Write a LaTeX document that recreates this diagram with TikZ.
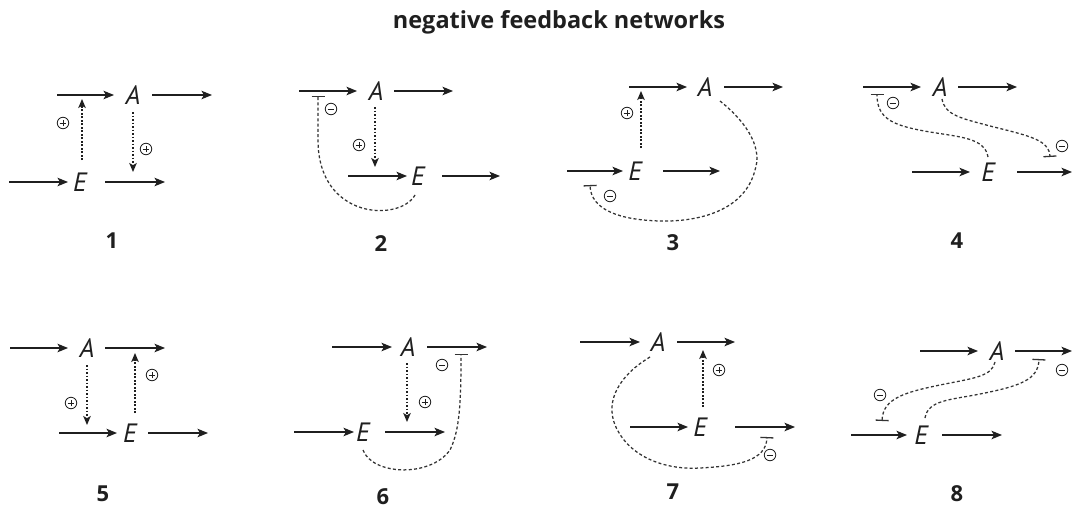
\documentclass[tikz,border=0pt]{standalone}
\usepackage{fontspec}
\setmainfont{Open Sans}
\newfontfamily\speciesfont{PT Sans}
\usetikzlibrary{arrows.meta,calc}
\definecolor{ink}{gray}{0.12}
\definecolor{dashink}{gray}{0.2}
\tikzset{
  flux/.style={draw=ink, line width=1.4pt, -{Stealth[length=10.5pt,width=8.5pt,inset=2.5pt]}},
  act/.style={draw=ink, line width=1.3pt, dash pattern=on 1.8pt off 1.7pt, -{Stealth[length=9pt,width=7.5pt,inset=2.2pt]}},
  inh/.style={draw=dashink, line width=1.25pt, dash pattern=on 3pt off 2.3pt, -{Bar[width=13pt,line width=1.3pt]}},
  species/.style={font=\speciesfont\fontsize{26.5}{26.5}\selectfont\itshape, text=ink, inner sep=0pt},
  tag/.style={font=\fontsize{22}{22}\selectfont\bfseries, text=ink},
  sign/.style={circle, draw=ink, line width=0.8pt, minimum size=11.5pt, inner sep=0pt},
  signplus/.style={sign, path picture={
      \draw[ink, line width=0.75pt]
        ([xshift=-3.3pt]path picture bounding box.center) -- ([xshift=3.3pt]path picture bounding box.center)
        ([yshift=-3.3pt]path picture bounding box.center) -- ([yshift=3.3pt]path picture bounding box.center);}},
  signminus/.style={sign, path picture={
      \draw[ink, line width=0.75pt]
        ([xshift=-3.3pt]path picture bounding box.center) -- ([xshift=3.3pt]path picture bounding box.center);}},
}
\begin{document}
\begin{tikzpicture}[x=1pt,y=-1pt]
\useasboundingbox (0,0) rectangle (1073,511);
\fill[white] (0,0) rectangle (1073,511);

\node[font=\fontsize{23.5}{23.5}\selectfont\bfseries, text=ink] (title) at (559,22) {negative feedback networks};

% ---------- 1 ----------
\node[species] (A1) at (133,95) {A};
\node[species] (E1) at (80,182) {E};
\coordinate (a1in) at (57,95);   \coordinate (a1out) at (212,95);
\coordinate (e1in) at (9,182);   \coordinate (e1out) at (165,182);
\coordinate (a1hit) at (82,99);  \coordinate (e1hit) at (133,172);
\draw[flux, shorten >=19pt] (a1in) -- (A1.center);
\draw[flux, shorten <=19pt] (A1.center) -- (a1out);
\draw[flux, shorten >=12pt] (e1in) -- (E1.center);
\draw[flux, shorten <=25pt] (E1.center) -- (e1out);
\draw[act, shorten <=22pt] ([xshift=2pt]E1.center) -- (a1hit);
\draw[act, shorten <=17pt] (A1.center) -- (e1hit);
\node[signplus] (p1a) at (63,123) {};
\node[signplus] (p1b) at (146,149) {};
\node[tag] (n1) at (112,241) {1};

% ---------- 2 ----------
\node[species] (A2) at (376,91) {A};
\node[species] (E2) at (418,176) {E};
\coordinate (a2in) at (299,91);   \coordinate (a2out) at (453,91);
\coordinate (e2in) at (348,176);  \coordinate (e2out) at (500,176);
\coordinate (e2hit) at (375,167); \coordinate (a2bar) at (318,96);
\draw[flux, shorten >=19pt] (a2in) -- (A2.center);
\draw[flux, shorten <=18pt] (A2.center) -- (a2out);
\draw[flux, shorten >=11pt] (e2in) -- (E2.center);
\draw[flux, shorten <=24pt] (E2.center) -- (e2out);
\draw[act, shorten <=16pt] ([xshift=-1pt]A2.center) -- (e2hit);
\draw[inh] ([xshift=-3pt,yshift=-19pt]E2.center) .. controls (400,222) and (318,220) .. (318,140) -- (a2bar);
\node[signplus] (p2) at (359,145) {};
\node[signminus] (m2) at (331,109) {};
\node[tag] (n2) at (381,244) {2};

% ---------- 3 ----------
\node[species] (A3) at (705,87) {A};
\node[species] (E3) at (635,171) {E};
\coordinate (a3in) at (629,87);   \coordinate (a3out) at (783,87);
\coordinate (e3in) at (567,171);  \coordinate (e3out) at (720,171);
\coordinate (a3hit) at (641,91);  \coordinate (e3bar) at (590,185);
\draw[flux, shorten >=18pt] (a3in) -- (A3.center);
\draw[flux, shorten <=19pt] (A3.center) -- (a3out);
\draw[flux, shorten >=12pt] (e3in) -- (E3.center);
\draw[flux, shorten <=28pt] (E3.center) -- (e3out);
\draw[act, shorten <=23pt] ([xshift=6pt]E3.center) -- (a3hit);
\draw[inh] ([xshift=15pt,yshift=-14pt]A3.center) .. controls (750,125) and (762,150) .. (755,170)
  .. controls (745,210) and (700,222) .. (660,221) .. controls (620,220) and (591,210) .. (e3bar);
\node[signplus] (p3) at (627,113) {};
\node[signminus] (m3) at (610,196) {};
\node[tag] (n3) at (673,243) {3};

% ---------- 4 ----------
\node[species] (A4) at (940,87) {A};
\node[species] (E4) at (988,172) {E};
\coordinate (a4in) at (863,87);   \coordinate (a4out) at (1017,87);
\coordinate (e4in) at (912,172);  \coordinate (e4out) at (1072,172);
\coordinate (a4bar) at (877,94);  \coordinate (e4bar) at (1050,157);
\draw[flux, shorten >=19pt] (a4in) -- (A4.center);
\draw[flux, shorten <=18pt] (A4.center) -- (a4out);
\draw[flux, shorten >=18pt] (e4in) -- (E4.center);
\draw[flux, shorten <=29pt] (E4.center) -- (e4out);
\draw[inh] ([yshift=15pt]E4.center) .. controls (985,138) and (960,137) .. (930,132)
  .. controls (895,126) and (877,120) .. (a4bar);
\draw[inh] ([xshift=2pt,yshift=-12pt]A4.center) .. controls (945,115) and (960,118) .. (990,126)
  .. controls (1030,136) and (1049,140) .. (e4bar);
\node[signminus] (m4a) at (893,103) {};
\node[signminus] (m4b) at (1062,146) {};
\node[tag] (n4) at (957,241) {4};

% ---------- 5 ----------
\node[species] (A5) at (87,348) {A};
\node[species] (E5) at (130,433) {E};
\coordinate (a5in) at (10,348);   \coordinate (a5out) at (165,348);
\coordinate (e5in) at (59,433);   \coordinate (e5out) at (208,433);
\coordinate (e5hit) at (87,425);  \coordinate (a5hit) at (135,353);
\draw[flux, shorten >=19pt] (a5in) -- (A5.center);
\draw[flux, shorten <=18pt] (A5.center) -- (a5out);
\draw[flux, shorten >=13pt] (e5in) -- (E5.center);
\draw[flux, shorten <=18pt] (E5.center) -- (e5out);
\draw[act, shorten <=17pt] (A5.center) -- (e5hit);
\draw[act, shorten <=20pt] ([xshift=5pt]E5.center) -- (a5hit);
\node[signplus] (p5a) at (71,403) {};
\node[signplus] (p5b) at (152,375) {};
\node[tag] (n5) at (103,494) {5};

% ---------- 6 ----------
\node[species] (A6) at (408,347) {A};
\node[species] (E6) at (363,432) {E};
\coordinate (a6in) at (332,347);  \coordinate (a6out) at (487,347);
\coordinate (e6in) at (294,432);  \coordinate (e6out) at (445,432);
\coordinate (e6hit) at (407,422); \coordinate (a6bar) at (461,354);
\draw[flux, shorten >=16pt] (a6in) -- (A6.center);
\draw[flux, shorten <=19pt] (A6.center) -- (a6out);
\draw[flux, shorten >=9pt] (e6in) -- (E6.center);
\draw[flux, shorten <=22pt] (E6.center) -- (e6out);
\draw[act, shorten <=16pt] ([xshift=-1pt]A6.center) -- (e6hit);
\draw[inh] ([yshift=-18pt]E6.center) .. controls (372,475) and (430,478) .. (450,450)
  .. controls (460,430) and (461,400) .. (a6bar);
\node[signplus] (p6) at (425,402) {};
\node[signminus] (m6) at (442,365) {};
\node[tag] (n6) at (383,497) {6};

% ---------- 7 ----------
\node[species] (A7) at (658,342) {A};
\node[species] (E7) at (700,427) {E};
\coordinate (a7in) at (580,342);  \coordinate (a7out) at (735,342);
\coordinate (e7in) at (630,427);  \coordinate (e7out) at (795,427);
\coordinate (a7hit) at (703,350); \coordinate (e7bar) at (767,437);
\draw[flux, shorten >=18pt] (a7in) -- (A7.center);
\draw[flux, shorten <=19pt] (A7.center) -- (a7out);
\draw[flux, shorten >=12pt] (e7in) -- (E7.center);
\draw[flux, shorten <=35pt] (E7.center) -- (e7out);
\draw[act, shorten <=20pt] ([xshift=3pt]E7.center) -- (a7hit);
\draw[inh] ([xshift=-8pt,yshift=-15pt]A7.center) .. controls (620,375) and (605,400) .. (615,425)
  .. controls (630,460) and (670,470) .. (700,468) .. controls (740,466) and (766,460) .. (e7bar);
\node[signplus] (p7) at (719,370) {};
\node[signminus] (m7) at (770,455) {};
\node[tag] (n7) at (673,492) {7};

% ---------- 8 ----------
\node[species] (A8) at (997,351) {A};
\node[species] (E8) at (921,435) {E};
\coordinate (a8in) at (920,351);  \coordinate (a8out) at (1072,351);
\coordinate (e8in) at (851,435);  \coordinate (e8out) at (1002,435);
\coordinate (e8bar) at (882,421); \coordinate (a8bar) at (1039,359);
\draw[flux, shorten >=19pt] (a8in) -- (A8.center);
\draw[flux, shorten <=18pt] (A8.center) -- (a8out);
\draw[flux, shorten >=14pt] (e8in) -- (E8.center);
\draw[flux, shorten <=21pt] (E8.center) -- (e8out);
\draw[inh] ([xshift=-2pt,yshift=-11pt]A8.center) .. controls (992,376) and (975,378) .. (945,384)
  .. controls (905,392) and (883,398) .. (e8bar);
\draw[inh] ([xshift=4pt,yshift=17pt]E8.center) .. controls (928,400) and (950,400) .. (980,394)
  .. controls (1020,386) and (1038,380) .. (a8bar);
\node[signminus] (m8a) at (880,395) {};
\node[signminus] (m8b) at (1062,370) {};
\node[tag] (n8) at (957,494) {8};
\end{tikzpicture}
\end{document}
